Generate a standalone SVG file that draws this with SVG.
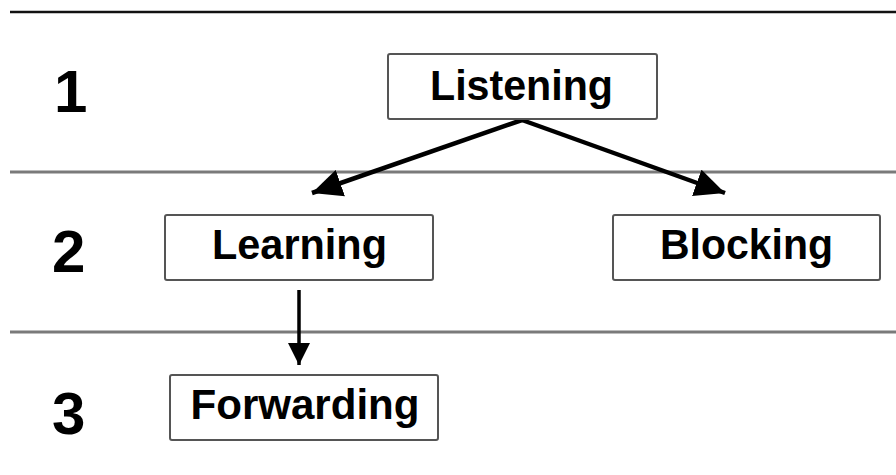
<svg xmlns="http://www.w3.org/2000/svg" width="896" height="475" viewBox="0 0 896 475">
  <style>
    .sep { stroke: #7a7a7a; stroke-width: 3; }
    .box { fill: #ffffff; stroke: #555555; stroke-width: 2; }
    .lbl { font-family: "Liberation Sans", Arial, sans-serif; font-weight: bold; font-size: 43px; fill: #000000; text-anchor: middle; }
    .num { font-family: "Liberation Sans", Arial, sans-serif; font-weight: bold; font-size: 60px; fill: #000000; }
    .conn { stroke: #000000; fill: none; }
  </style>
  <defs>
    <marker id="bigHead" markerUnits="userSpaceOnUse" markerWidth="32" markerHeight="28" refX="30" refY="14" orient="auto">
      <path d="M0,0 L30,14 L0,28 Z" fill="#000000"/>
    </marker>
    <marker id="smallHead" markerUnits="userSpaceOnUse" markerWidth="24" markerHeight="22" refX="22" refY="11" orient="auto">
      <path d="M0,0 L22,11 L0,22 Z" fill="#000000"/>
    </marker>
  </defs>
  <rect width="896" height="475" fill="#ffffff"/>
  <g id="separators">
    <line x1="10" y1="12" x2="896" y2="12" stroke="#111111" stroke-width="2.5"/>
    <line class="sep" x1="10" y1="172" x2="896" y2="172"/>
    <line class="sep" x1="10" y1="332" x2="896" y2="332"/>
  </g>
  <g id="levels">
    <text class="num" x="54" y="112">1</text>
    <text class="num" x="52" y="272">2</text>
    <text class="num" x="52" y="434">3</text>
  </g>
  <g id="connectors">
    <line class="conn" x1="522" y1="120" x2="312" y2="193" stroke-width="4.5" marker-end="url(#bigHead)"/>
    <line class="conn" x1="522" y1="120" x2="725" y2="193" stroke-width="4.5" marker-end="url(#bigHead)"/>
    <line class="conn" x1="299" y1="290" x2="299" y2="365" stroke-width="3.5" marker-end="url(#smallHead)"/>
  </g>
  <g id="listening">
    <rect class="box" x="388" y="54" width="269" height="65" rx="2"/>
    <text class="lbl" x="521.5" y="100" textLength="183" lengthAdjust="spacingAndGlyphs">Listening</text>
  </g>
  <g id="learning">
    <rect class="box" x="165" y="215" width="268" height="65" rx="2"/>
    <text class="lbl" x="299.5" y="259" textLength="175" lengthAdjust="spacingAndGlyphs">Learning</text>
  </g>
  <g id="blocking">
    <rect class="box" x="613" y="215" width="267" height="65" rx="2"/>
    <text class="lbl" x="746.5" y="259" textLength="173" lengthAdjust="spacingAndGlyphs">Blocking</text>
  </g>
  <g id="forwarding">
    <rect class="box" x="170" y="375" width="268" height="65" rx="2"/>
    <text class="lbl" x="305" y="419" textLength="229" lengthAdjust="spacingAndGlyphs">Forwarding</text>
  </g>
</svg>
